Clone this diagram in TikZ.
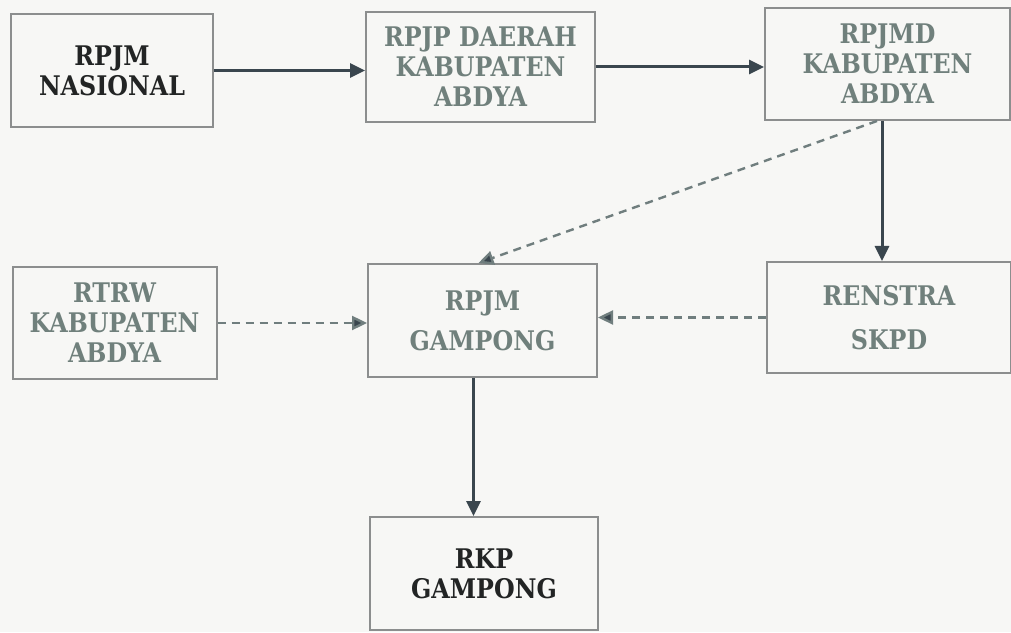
\documentclass[tikz,border=0pt]{standalone}
\usepackage{fontspec}
\setmainfont{DejaVu Serif}[FakeStretch=0.88]
\usetikzlibrary{arrows.meta}
\definecolor{paper}{RGB}{247,247,245}
\definecolor{boxline}{RGB}{140,142,142}
\definecolor{arrline}{RGB}{58,70,78}
\definecolor{dashline}{RGB}{112,126,126}
\definecolor{greytxt}{RGB}{112,128,124}
\definecolor{darktxt}{RGB}{34,36,36}
\tikzset{
  box/.style={draw=boxline,line width=1pt,inner sep=0pt,align=center,
    font=\bfseries\fontsize{13.5}{15}\selectfont,text=greytxt},
  darkbox/.style={box,text=darktxt},
  solidarr/.style={draw=arrline,line width=1.5pt,
    -{Triangle[length=7.5pt,width=7pt]}},
  dasharr/.style={draw=dashline,line width=1.2pt,dash pattern=on 4pt off 3pt,
    -{Triangle[length=7.5pt,width=7pt,fill=arrline]}}
}
\begin{document}
\begin{tikzpicture}[x=0.5pt,y=0.5pt]
  \fill[paper] (0,0) rectangle (1011,632);
  \useasboundingbox (0,0) rectangle (1011,632);
  % top row
  \node[darkbox,minimum width=101pt,minimum height=56.5pt] (nas) at (112,561.5) {RPJM\\NASIONAL};
  \node[box,minimum width=114.5pt,minimum height=55pt] (rpjp) at (480.5,565) {RPJP DAERAH\\KABUPATEN\\ABDYA};
  \node[box,minimum width=122.5pt,minimum height=56pt] (rpjmd) at (887.5,568) {RPJMD\\KABUPATEN\\ABDYA};
  % middle row
  \node[box,minimum width=102pt,minimum height=56pt] (rtrw) at (114.5,309) {RTRW\\KABUPATEN\\ABDYA};
  \node[box,minimum width=114.5pt,minimum height=56.5pt] (rpjm) at (482.5,311.5) {RPJM\\[5pt]GAMPONG};
  \node[box,minimum width=122pt,minimum height=55.5pt] (renstra) at (889,314.5) {RENSTRA\\[7pt]SKPD};
  % bottom
  \node[darkbox,minimum width=114pt,minimum height=56.5pt] (rkp) at (484,58.5) {RKP\\GAMPONG};
  % connectors
  \draw[solidarr] (nas.east) -- (nas.east -| rpjp.west);
  \draw[solidarr] (rpjp.east) -- (rpjp.east -| rpjmd.west);
  \draw[solidarr] ([xshift=-2.75pt]rpjmd.south) -- ([xshift=-2.75pt]rpjmd.south |- renstra.north);
  \draw[dasharr] ([xshift=-5.25pt]rpjmd.south) -- ([xshift=-2pt]rpjm.north);
  \draw[dasharr] (rtrw.east) -- (rtrw.east -| rpjm.west);
  \draw[dasharr] (renstra.west) -- (renstra.west -| rpjm.east);
  \draw[solidarr] ([xshift=-4.5pt]rpjm.south) -- ([xshift=-4.5pt]rpjm.south |- rkp.north);
\end{tikzpicture}
\end{document}
